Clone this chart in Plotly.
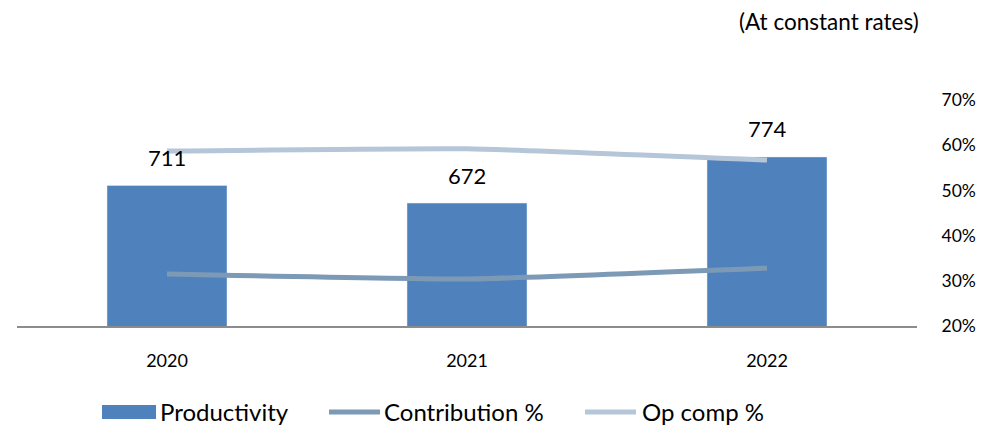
import plotly.graph_objects as go

years = ["2020", "2021", "2022"]
productivity = [711, 672, 774]
contribution_pct = [0.315, 0.304, 0.328]
op_comp_pct = [0.587, 0.592, 0.567]
y2_ticks = [0.2, 0.3, 0.4, 0.5, 0.6, 0.7]

BAR = "#4F81BD"
CONTRIB = "#7C9AB6"
OPCOMP = "#B5C6D8"
FONT = "Lato"

fig = go.Figure()
fig.add_trace(go.Bar(x=years, y=productivity, name="Productivity", marker_color=BAR,
                     width=0.4, showlegend=False, yaxis="y"))
fig.add_trace(go.Scatter(x=years, y=contribution_pct, name="Contribution %", mode="lines",
                         line=dict(color=CONTRIB, width=5, shape="spline", smoothing=0.4),
                         showlegend=False, yaxis="y2"))
fig.add_trace(go.Scatter(x=years, y=op_comp_pct, name="Op comp %", mode="lines",
                         line=dict(color=OPCOMP, width=5, shape="spline", smoothing=0.4),
                         showlegend=False, yaxis="y2"))

# data labels: category axes use the serial index of each category
for i, v in enumerate(productivity):
    fig.add_annotation(x=i, y=v, xref="x", yref="y", text=str(v), showarrow=False,
                       yshift=28, font=dict(size=22, color="#000000", family=FONT))

W, H = 988, 425
L, R, T, B = 17, 71, 100, 99
pw, ph = W - L - R, H - T - B
def px(x):
    return (x - L) / pw
def py(y):
    return (H - B - y) / ph

fig.add_annotation(x=px(921), y=py(21), xref="paper", yref="paper", text="(At constant rates)",
                   showarrow=False, xanchor="right", yanchor="middle",
                   font=dict(size=22.5, color="#000000", family=FONT))

# manual legend
fig.add_shape(type="rect", xref="paper", yref="paper", x0=px(102), x1=px(156), y0=py(419), y1=py(405),
              fillcolor=BAR, line=dict(width=0))
fig.add_shape(type="line", xref="paper", yref="paper", x0=px(329), x1=px(380), y0=py(412), y1=py(412),
              line=dict(color=CONTRIB, width=5))
fig.add_shape(type="line", xref="paper", yref="paper", x0=px(585), x1=px(636), y0=py(412), y1=py(412),
              line=dict(color=OPCOMP, width=5))
for xs, label in [(158, "Productivity"), (382, "Contribution %"), (640, "Op comp %")]:
    fig.add_annotation(x=px(xs), y=py(411), xref="paper", yref="paper", text=label,
                       showarrow=False, xanchor="left", yanchor="middle",
                       font=dict(size=24, color="#000000", family=FONT))

fig.update_layout(
    width=W, height=H,
    margin=dict(l=L, r=R, t=T, b=B, autoexpand=False),
    plot_bgcolor="white", paper_bgcolor="white",
    font=dict(family=FONT, color="#000000"),
    xaxis=dict(type="category", categoryorder="array", categoryarray=years,
               range=[-0.5, len(years) - 0.5],
               showgrid=False, showline=True, linecolor="#8C8C8C", linewidth=2,
               ticks="outside", ticklen=17, tickcolor="rgba(0,0,0,0)",
               tickfont=dict(size=18, family=FONT), zeroline=False),
    yaxis=dict(range=[400, 900], visible=False, showgrid=False),
    yaxis2=dict(range=[0.2, 0.7], overlaying="y", side="right", tickvals=y2_ticks,
                tickformat=".0%", showgrid=False, zeroline=False, showline=False,
                ticks="outside", ticklen=20, tickcolor="rgba(0,0,0,0)",
                tickfont=dict(size=17.5, family=FONT)),
    showlegend=False,
)

fig.write_html("out.html", config={"displayModeBar": False},
               post_script="document.body.style.margin='0';")
